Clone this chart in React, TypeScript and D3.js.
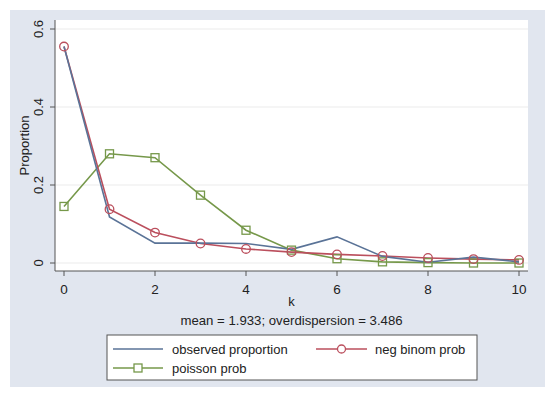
import React from "react";
import * as d3 from "d3";

// values
const ks = [0, 1, 2, 3, 4, 5, 6, 7, 8, 9, 10];
const observed = [0.555, 0.118, 0.051, 0.051, 0.05, 0.035, 0.067, 0.017, 0.002, 0.015, 0.003];
const negBinom = [0.555, 0.138, 0.078, 0.05, 0.036, 0.028, 0.022, 0.018, 0.013, 0.01, 0.008];
const poisson = [0.145, 0.28, 0.27, 0.174, 0.084, 0.033, 0.011, 0.003, 0.001, 0, 0];
const yTicks = [0, 0.2, 0.4, 0.6];
const xTicks = [0, 2, 4, 6, 8, 10];
const subtitle = "mean = 1.933; overdispersion = 3.486";

const W = 550,
  H = 397;
const plot = { left: 55, right: 528, top: 20, bottom: 271 };
const FONT = "'Liberation Sans', Arial, sans-serif";

const colObs = "#5a7397";
const colNb = "#bb4f5d";
const colPo = "#76984a";

export default function App() {
  const x = d3.scaleLinear().domain([0, 10]).range([64, 519]);
  const y = d3.scaleLinear().domain([0, 0.6]).range([263, 29]);

  const line = d3
    .line<number>()
    .x((d, i) => x(ks[i]))
    .y((d) => y(d));

  const cx = (plot.left + plot.right) / 2;

  return (
    <svg width={W} height={H} style={{ position: "absolute", left: 0, top: 0 }} fontFamily={FONT}>
      <rect x={0} y={0} width={W} height={H} fill="#fff" />
      <rect x={10} y={10} width={535} height={377} fill="#e1e6ef" />
      <rect x={plot.left} y={plot.top} width={plot.right - plot.left} height={plot.bottom - plot.top} fill="#fff" />

      {/* grid */}
      {yTicks.map((t) => (
        <line key={"g" + t} x1={plot.left} x2={plot.right} y1={y(t)} y2={y(t)} stroke="#ebebeb" strokeWidth={1.2} />
      ))}

      {/* axes */}
      <line x1={plot.left} x2={plot.left} y1={plot.top} y2={plot.bottom} stroke="#555" strokeWidth={1} />
      <line x1={plot.left} x2={plot.right} y1={plot.bottom} y2={plot.bottom} stroke="#555" strokeWidth={1} />
      {yTicks.map((t) => (
        <g key={"y" + t}>
          <line x1={plot.left - 5} x2={plot.left} y1={y(t)} y2={y(t)} stroke="#555" />
          <text
            transform={`translate(${plot.left - 12},${y(t)}) rotate(-90)`}
            textAnchor="middle"
            fontSize={13}
            fill="#222"
          >
            {t === 0 ? "0" : t.toFixed(1)}
          </text>
        </g>
      ))}
      {xTicks.map((t) => (
        <g key={"x" + t}>
          <line x1={x(t)} x2={x(t)} y1={plot.bottom} y2={plot.bottom + 5} stroke="#555" />
          <text x={x(t)} y={plot.bottom + 23} textAnchor="middle" fontSize={13.5} fill="#222">
            {t}
          </text>
        </g>
      ))}
      <text transform={`translate(29,${(plot.top + plot.bottom) / 2}) rotate(-90)`} textAnchor="middle" fontSize={13} fill="#222">
        Proportion
      </text>
      <text x={cx} y={306} textAnchor="middle" fontSize={13} fill="#222">
        k
      </text>
      <text x={cx} y={325} textAnchor="middle" fontSize={13.2} fill="#222">
        {subtitle}
      </text>

      {/* series */}
      <path d={line(poisson) || ""} fill="none" stroke={colPo} strokeWidth={1.6} />
      <path d={line(negBinom) || ""} fill="none" stroke={colNb} strokeWidth={1.6} />
      <path d={line(observed) || ""} fill="none" stroke={colObs} strokeWidth={1.6} />
      {poisson.map((v, i) => (
        <rect key={"p" + i} x={x(ks[i]) - 4} y={y(v) - 4} width={8} height={8} fill="none" stroke={colPo} strokeWidth={1.3} />
      ))}
      {negBinom.map((v, i) => (
        <circle key={"n" + i} cx={x(ks[i])} cy={y(v)} r={4.3} fill="none" stroke={colNb} strokeWidth={1.3} />
      ))}

      {/* legend */}
      <rect x={107} y={335} width={370} height={45} fill="#fff" stroke="#555" strokeWidth={1} />
      <line x1={113} x2={163} y1={349} y2={349} stroke={colObs} strokeWidth={1.6} />
      <text x={172} y={353.5} fontSize={13} fill="#222">
        observed proportion
      </text>
      <line x1={316} x2={367} y1={349} y2={349} stroke={colNb} strokeWidth={1.6} />
      <circle cx={341.5} cy={349} r={4} fill="#fff" stroke={colNb} strokeWidth={1.3} />
      <text x={375} y={353.5} fontSize={13} fill="#222">
        neg binom prob
      </text>
      <line x1={113} x2={163} y1={368} y2={368} stroke={colPo} strokeWidth={1.6} />
      <rect x={134} y={364} width={8} height={8} fill="#fff" stroke={colPo} strokeWidth={1.3} />
      <text x={172} y={372.5} fontSize={13} fill="#222">
        poisson prob
      </text>
    </svg>
  );
}
